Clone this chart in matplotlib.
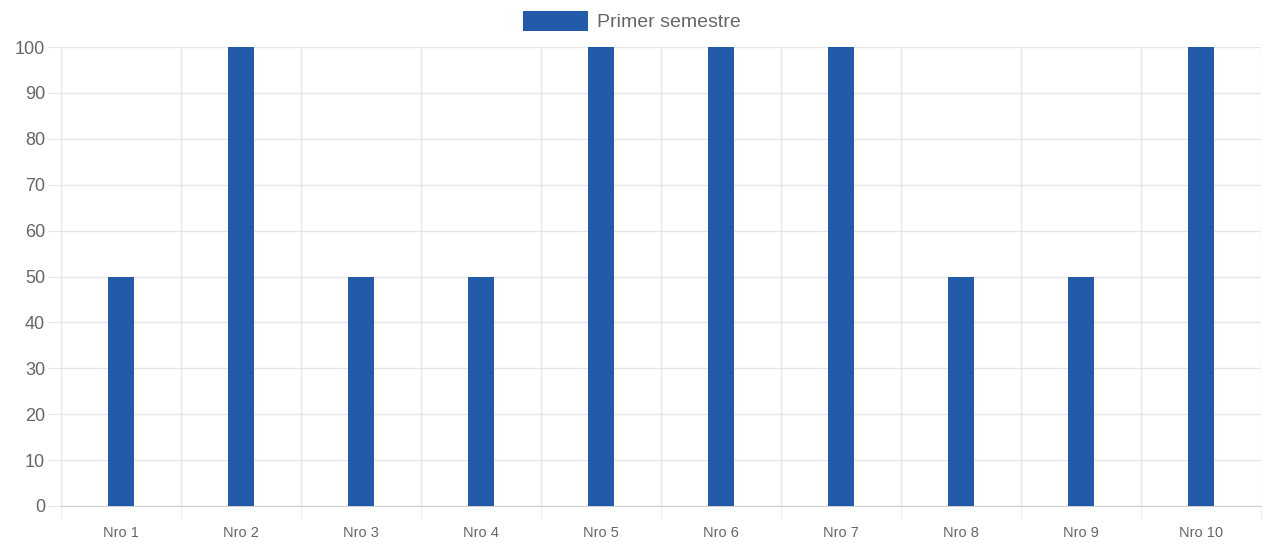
import matplotlib
matplotlib.use("Agg")
import matplotlib.pyplot as plt
import numpy as np

plt.rcParams['font.family'] = ['Liberation Sans', 'DejaVu Sans']

categories = ["Nro 1", "Nro 2", "Nro 3", "Nro 4", "Nro 5", "Nro 6", "Nro 7", "Nro 8", "Nro 9", "Nro 10"]
values = [50, 100, 50, 50, 100, 100, 100, 50, 50, 100]
series_name = "Primer semestre"
yticks = list(range(0, 101, 10))

W, H = 1262, 547
PX = 0.72  # points per pixel at dpi 100
fig = plt.figure(figsize=(W / 100, H / 100), dpi=100)
ax = fig.add_axes([61 / W, 1 - 506 / H, 1200 / W, (506 - 47) / H])

x = np.arange(len(categories))
ax.bar(x, values, width=0.22, color="#235BAA", label=series_name, zorder=3)

ax.set_xlim(-0.5, len(categories) - 0.5)
ax.set_ylim(0, 100)
ax.set_yticks(yticks)
ax.set_xticks(x)
ax.set_xticklabels(categories)
ax.set_xticks(np.arange(-0.5, len(categories)), minor=True)

gc = "#e6e6e6"
ax.grid(axis="y", which="major", color=gc, linewidth=1, zorder=0)
ax.grid(axis="x", which="minor", color=gc, linewidth=1, zorder=0)
ax.tick_params(axis="y", which="major", length=13 * PX, color=gc, labelsize=13, labelcolor="#666666", pad=3 * PX)
ax.tick_params(axis="x", which="major", length=0, labelsize=10.5, labelcolor="#666666", pad=20 * PX)
ax.tick_params(axis="x", which="minor", length=12 * PX, color=gc)
for s in ["top", "right"]:
    ax.spines[s].set_visible(False)
ax.spines["left"].set_color(gc)
ax.spines["bottom"].set_color("#d0d0d0")

leg = fig.legend(loc="center", bbox_to_anchor=(632 / W, 1 - 21 / H), frameon=False,
                 fontsize=14, labelcolor="#666666", handlelength=3.35, handleheight=1.2,
                 handletextpad=0.48)

fig.savefig("out.png", dpi=100)
